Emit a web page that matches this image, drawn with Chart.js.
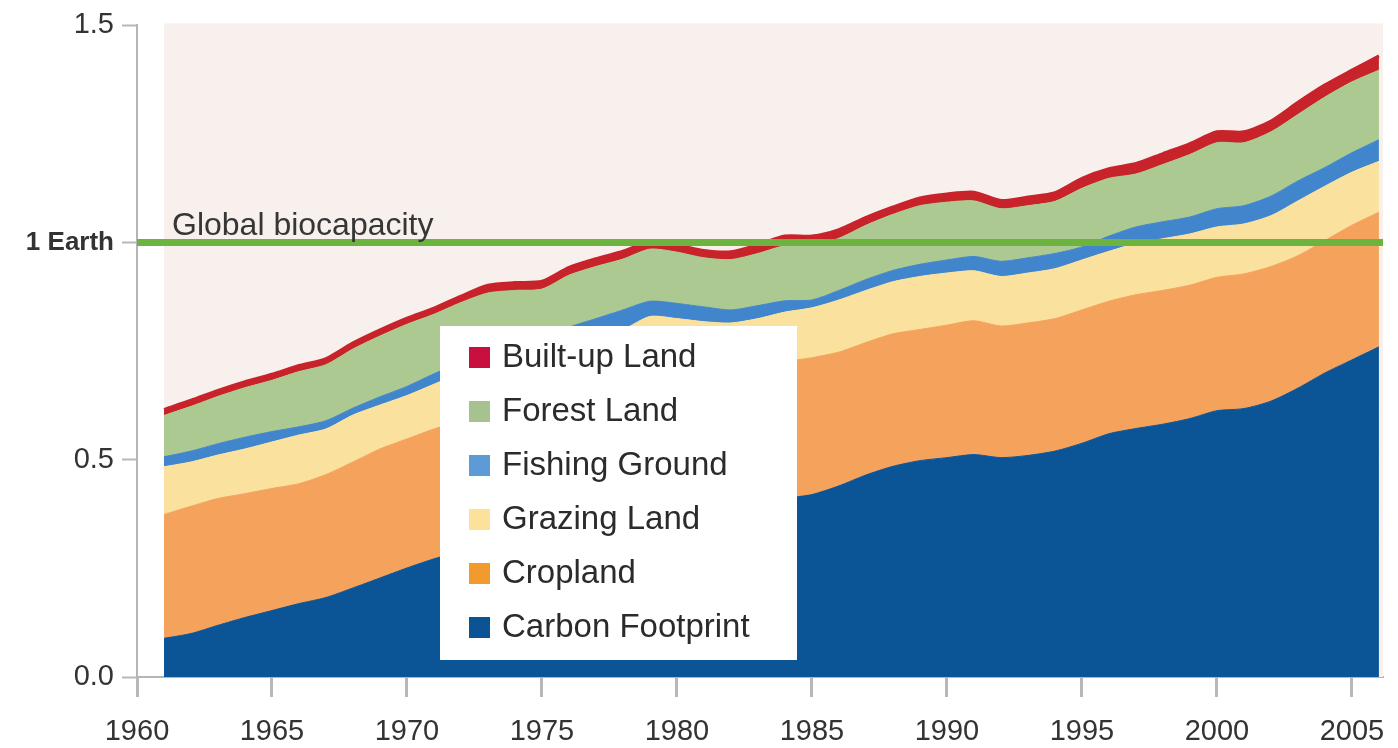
<!DOCTYPE html>
<html>
<head>
<meta charset="utf-8">
<script src="https://cdn.jsdelivr.net/npm/chart.js@4.4.1/dist/chart.umd.min.js"></script>
<style>
  body { margin: 0; background: #fff; }
  #wrap { width: 1398px; height: 748px; }
</style>
</head>
<body>
<div id="wrap"><canvas id="myChart" width="1398" height="748"></canvas></div>
<script>
// Ecological footprint by component, in number of Earths (cumulative level of each layer)

const years = [1961, 1962, 1963, 1964, 1965, 1966, 1967, 1968, 1969, 1970,
               1971, 1972, 1973, 1974, 1975, 1976, 1977, 1978, 1979, 1980,
               1981, 1982, 1983, 1984, 1985, 1986, 1987, 1988, 1989, 1990,
               1991, 1992, 1993, 1994, 1995, 1996, 1997, 1998, 1999, 2000,
               2001, 2002, 2003, 2004, 2005, 2006];

const carbon = [0.089, 0.100, 0.119, 0.137, 0.153, 0.169, 0.183, 0.205, 0.228, 0.251,
                0.272, 0.290, 0.310, 0.315, 0.320, 0.340, 0.355, 0.370, 0.390, 0.385,
                0.380, 0.375, 0.385, 0.410, 0.420, 0.440, 0.465, 0.485, 0.498, 0.505,
                0.512, 0.505, 0.510, 0.520, 0.538, 0.560, 0.572, 0.582, 0.595, 0.613,
                0.618, 0.635, 0.665, 0.700, 0.730, 0.760];

const cropland = [0.374, 0.393, 0.411, 0.422, 0.434, 0.445, 0.466, 0.495, 0.525, 0.548,
                  0.571, 0.590, 0.620, 0.625, 0.630, 0.655, 0.670, 0.690, 0.710, 0.700,
                  0.695, 0.690, 0.700, 0.725, 0.735, 0.748, 0.770, 0.790, 0.800, 0.810,
                  0.820, 0.808, 0.815, 0.825, 0.845, 0.865, 0.880, 0.890, 0.902, 0.920,
                  0.928, 0.945, 0.970, 1.005, 1.040, 1.070];

const grazing = [0.484, 0.495, 0.511, 0.525, 0.541, 0.557, 0.571, 0.603, 0.626, 0.648,
                 0.674, 0.700, 0.730, 0.735, 0.740, 0.770, 0.785, 0.800, 0.830, 0.825,
                 0.818, 0.815, 0.825, 0.840, 0.850, 0.868, 0.890, 0.910, 0.922, 0.930,
                 0.935, 0.922, 0.930, 0.940, 0.960, 0.980, 0.998, 1.009, 1.020, 1.036,
                 1.043, 1.062, 1.096, 1.130, 1.162, 1.187];

const fishing = [0.507, 0.520, 0.537, 0.552, 0.565, 0.576, 0.590, 0.619, 0.645, 0.669,
                 0.698, 0.725, 0.760, 0.765, 0.775, 0.805, 0.825, 0.845, 0.865, 0.860,
                 0.852, 0.845, 0.855, 0.866, 0.868, 0.890, 0.915, 0.936, 0.950, 0.960,
                 0.968, 0.957, 0.965, 0.975, 0.990, 1.015, 1.036, 1.048, 1.059, 1.078,
                 1.085, 1.107, 1.142, 1.173, 1.207, 1.237];

const forest = [0.602, 0.623, 0.646, 0.666, 0.683, 0.703, 0.719, 0.755, 0.785, 0.812,
                0.835, 0.862, 0.884, 0.890, 0.893, 0.925, 0.945, 0.962, 0.985, 0.978,
                0.965, 0.961, 0.975, 0.993, 0.993, 1.010, 1.040, 1.065, 1.085, 1.093,
                1.096, 1.078, 1.085, 1.095, 1.125, 1.148, 1.158, 1.180, 1.203, 1.230,
                1.230, 1.255, 1.295, 1.335, 1.370, 1.397];

const builtUp = [0.616, 0.637, 0.660, 0.680, 0.697, 0.717, 0.733, 0.769, 0.799, 0.826,
                 0.849, 0.877, 0.902, 0.908, 0.911, 0.943, 0.963, 0.980, 1.002, 0.995,
                 0.982, 0.979, 0.995, 1.015, 1.015, 1.030, 1.058, 1.082, 1.103, 1.112,
                 1.116, 1.097, 1.105, 1.115, 1.148, 1.170, 1.182, 1.205, 1.228, 1.255,
                 1.255, 1.280, 1.323, 1.363, 1.397, 1.430];

const xTickYears = [1960, 1965, 1970, 1975, 1980, 1985, 1990, 1995, 2000, 2005];
const yTickValues = [0, 0.5, 1, 1.5];
const biocapacity = 1;

const FONT = '"Liberation Sans", Arial, sans-serif';

// layers bottom -> top
const layers = [
    { label: 'Carbon Footprint', data: carbon,   color: '#0b5597', legend: '#0b5394', bw: 1 },
    { label: 'Cropland',         data: cropland, color: '#f5a25c', legend: '#f39a2e', bw: 1 },
    { label: 'Grazing Land',     data: grazing,  color: '#fae29e', legend: '#fbe19c', bw: 1 },
    { label: 'Fishing Ground',   data: fishing,  color: '#4186cd', legend: '#5e9bd6', bw: 1 },
    { label: 'Forest Land',      data: forest,   color: '#abc990', legend: '#a6c38f', bw: 1 },
    { label: 'Built-up Land',    data: builtUp,  color: '#c8232b', legend: '#c8103f', bw: 3 }
];

const datasets = layers.map((l, i) => ({
    label: l.label,
    data: years.map((yr, k) => ({ x: yr, y: l.data[k] })),
    backgroundColor: l.color,
    borderColor: l.color,
    borderWidth: l.bw,
    pointRadius: 0,
    tension: 0.25,
    fill: i === 0 ? 'origin' : '-1'
}));

// pale plot background behind the areas
const bgPlugin = {
    id: 'bg',
    beforeDatasetsDraw(chart) {
        const { ctx, chartArea, scales } = chart;
        const x0 = scales.x.getPixelForValue(years[0]);
        ctx.save();
        ctx.fillStyle = '#f8f0ed';
        ctx.fillRect(x0, chartArea.top - 2, chartArea.right - x0, chartArea.bottom - chartArea.top + 2);
        ctx.restore();
    }
};

// green global biocapacity line + label
const biocapPlugin = {
    id: 'biocap',
    afterDatasetsDraw(chart) {
        const { ctx, chartArea, scales } = chart;
        const y = scales.y.getPixelForValue(biocapacity);
        ctx.save();
        ctx.strokeStyle = '#6cb33f';
        ctx.lineWidth = 7;
        ctx.beginPath();
        ctx.moveTo(chartArea.left, y);
        ctx.lineTo(chartArea.right, y);
        ctx.stroke();
        ctx.fillStyle = '#363636';
        ctx.font = '32px ' + FONT;
        ctx.textBaseline = 'alphabetic';
        ctx.fillText('Global biocapacity', 172, y - 8);
        ctx.restore();
    }
};

// boxed legend sitting inside the plot
const boxLegend = {
    id: 'boxLegend',
    afterDraw(chart) {
        const ctx = chart.ctx;
        ctx.save();
        ctx.fillStyle = '#ffffff';
        ctx.fillRect(440, 326, 357, 334);
        ctx.font = '33px ' + FONT;
        ctx.textBaseline = 'middle';
        const items = layers.slice().reverse();
        items.forEach((l, i) => {
            const cy = 357 + i * 54;
            ctx.fillStyle = l.legend;
            ctx.fillRect(469, cy - 10, 21, 21);
            ctx.fillStyle = '#2b2b2b';
            ctx.fillText(l.label, 502, cy + 1);
        });
        ctx.restore();
    }
};

const ctx = document.getElementById('myChart');
const myChart = new Chart(ctx, {
    type: 'line',
    data: { datasets: datasets },
    plugins: [bgPlugin, biocapPlugin, boxLegend],
    options: {
        responsive: false,
        animation: false,
        layout: { padding: { top: 20, right: 15, left: 0, bottom: 0 } },
        scales: {
            x: {
                type: 'linear',
                min: 1960,
                max: 2006.15,
                afterBuildTicks: scale => { scale.ticks = xTickYears.map(v => ({ value: v })); },
                afterFit: scale => {
                    scale.height = 71;
                    scale.paddingLeft = 0;
                    scale.paddingRight = 0;
                },
                border: { display: true, color: '#b5b5b5', width: 2 },
                grid: { drawOnChartArea: false, drawTicks: true, tickLength: 20, tickWidth: 3, color: '#b8b8b8' },
                ticks: {
                    color: '#333',
                    padding: 18,
                    maxRotation: 0,
                    font: { family: FONT, size: 29 },
                    callback: v => String(v)
                }
            },
            y: {
                min: 0,
                max: 1.5,
                afterBuildTicks: scale => { scale.ticks = yTickValues.map(v => ({ value: v })); },
                afterFit: scale => { scale.width = 137; },
                border: { display: true, color: '#b5b5b5', width: 2 },
                grid: { drawOnChartArea: false, drawTicks: true, tickLength: 15, tickWidth: 2, color: '#b8b8b8' },
                ticks: {
                    color: '#333',
                    padding: 8,
                    font: ctx => ctx.tick && ctx.tick.value === 1
                        ? { family: FONT, size: 26, weight: 'bold' }
                        : { family: FONT, size: 29 },
                    callback: v => v === 1 ? '1 Earth' : v.toFixed(1)
                }
            }
        },
        plugins: {
            legend: { display: false },
            tooltip: { enabled: false }
        }
    }
});
</script>
</body>
</html>
